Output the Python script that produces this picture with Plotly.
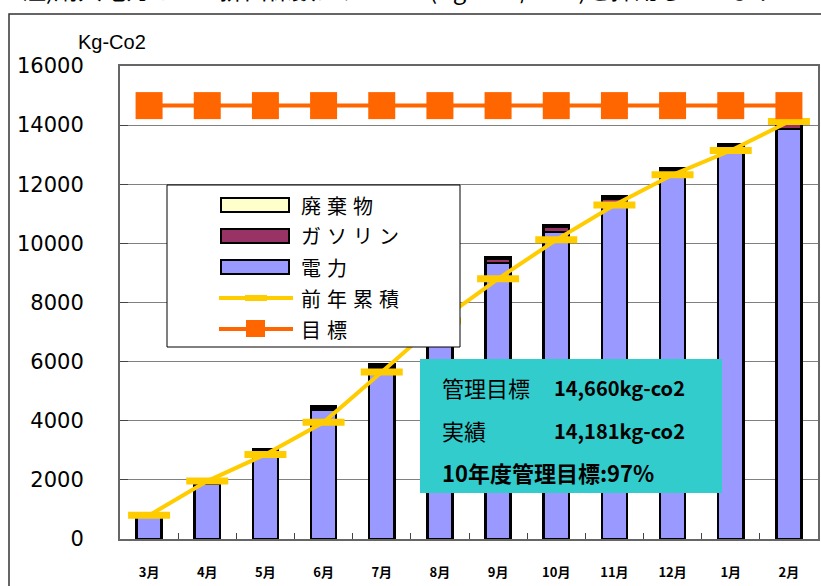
import plotly.graph_objects as go

months = ["3月", "4月", "5月", "6月", "7月", "8月", "9月", "10月", "11月", "12月", "1月", "2月"]
denryoku = [820, 1880, 2950, 4380, 5780, 7450, 9340, 10390, 11330, 12240, 13050, 13870]
gasoline = [40, 50, 60, 70, 80, 100, 140, 160, 180, 220, 220, 240]
haikibutsu = [20, 25, 30, 35, 40, 45, 60, 70, 70, 90, 80, 71]
zennen = [800, 1960, 2860, 3950, 5650, 7380, 8800, 10120, 11300, 12320, 13140, 14120]
mokuhyo = [14660] * 12
yticks = [0, 2000, 4000, 6000, 8000, 10000, 12000, 14000, 16000]
yticklabels = ["0", "2000", "4000", "6000", "8000", "10000", "12000", "14000", "16000"]

W, H = 821, 586
L, R, T, B = 120, 3, 66, 47
PW, PH = W - L - R, H - T - B


def px(x):
    return (x - L) / PW


def py(y):
    return (H - B - y) / PH


BAR_LINE = dict(color="black", width=2.5)
fig = go.Figure()
fig.add_bar(x=months, y=denryoku, name="電力", marker=dict(color="#9999FF", line=BAR_LINE))
fig.add_bar(x=months, y=gasoline, name="ガソリン", marker=dict(color="#993366", line=BAR_LINE))
fig.add_bar(x=months, y=haikibutsu, name="廃棄物", marker=dict(color="#FFFFCC", line=BAR_LINE))
fig.add_scatter(x=months, y=zennen, name="前年累積", mode="lines+markers",
                line=dict(color="#FFCC00", width=4),
                marker=dict(symbol="line-ew", size=30, line=dict(color="#FFCC00", width=7)))
fig.add_scatter(x=months, y=mokuhyo, name="目標", mode="lines+markers",
                line=dict(color="#FF6600", width=4),
                marker=dict(symbol="square", size=27, color="#FF6600"))

shapes = []
annotations = []

# outer frame
shapes.append(dict(type="rect", xref="paper", yref="paper", x0=px(9), x1=px(840), y0=py(14), y1=py(600),
                   line=dict(color="#333333", width=1.5), fillcolor="rgba(0,0,0,0)", layer="below"))

# legend box
shapes.append(dict(type="rect", xref="paper", yref="paper", x0=px(167), x1=px(460), y0=py(185), y1=py(347),
                   line=dict(color="black", width=1), fillcolor="white", layer="above"))
leg_rows = [
    ("廃棄物", 205, "box", "#FFFFCC"),
    ("ガソリン", 236, "box", "#993366"),
    ("電力", 267, "box", "#9999FF"),
    ("前年累積", 298, "yline", "#FFCC00"),
    ("目標", 329, "oline", "#FF6600"),
]
for label, yc, kind, col in leg_rows:
    if kind == "box":
        shapes.append(dict(type="rect", xref="paper", yref="paper", x0=px(221), x1=px(289),
                           y0=py(yc - 7), y1=py(yc + 7), line=dict(color="black", width=2),
                           fillcolor=col, layer="above"))
    elif kind == "yline":
        shapes.append(dict(type="line", xref="paper", yref="paper", x0=px(219), x1=px(293),
                           y0=py(yc), y1=py(yc), line=dict(color=col, width=4), layer="above"))
        shapes.append(dict(type="rect", xref="paper", yref="paper", x0=px(245), x1=px(267),
                           y0=py(yc - 3), y1=py(yc + 3), line=dict(width=0), fillcolor=col, layer="above"))
    else:
        shapes.append(dict(type="line", xref="paper", yref="paper", x0=px(219), x1=px(293),
                           y0=py(yc), y1=py(yc), line=dict(color=col, width=4), layer="above"))
        shapes.append(dict(type="rect", xref="paper", yref="paper", x0=px(246), x1=px(265),
                           y0=py(yc - 9), y1=py(yc + 8), line=dict(width=0), fillcolor=col, layer="above"))
    annotations.append(dict(xref="paper", yref="paper", x=px(299), y=py(yc), xanchor="left", yanchor="middle",
                            text='<span style="letter-spacing:6px">%s</span>' % label, showarrow=False,
                            font=dict(family="Noto Sans CJK JP", size=20, color="black")))

# info box
shapes.append(dict(type="rect", xref="paper", yref="paper", x0=px(420), x1=px(722), y0=py(359), y1=py(493),
                   line=dict(width=0), fillcolor="#33CCCC", layer="above"))
info = [
    ("管理目標", 387, False, 440, 22),
    ("14,660kg-co2", 387, True, 552, 20),
    ("実績", 430, False, 440, 22),
    ("14,181kg-co2", 430, True, 552, 20),
    ("10年度管理目標:97%", 472, True, 440, 22),
]
for txt, yc, bold, x0, fs in info:
    annotations.append(dict(xref="paper", yref="paper", x=px(x0), y=py(yc), xanchor="left", yanchor="middle",
                            text=("<b>%s</b>" % txt) if bold else txt, showarrow=False,
                            font=dict(family="Noto Sans CJK JP", size=fs, color="black")))

# unit label
annotations.append(dict(xref="paper", yref="paper", x=px(76), y=py(42), xanchor="left", yanchor="middle",
                        text="Kg-Co2", showarrow=False,
                        font=dict(family="Liberation Sans", size=20, color="black")))
# clipped top note
annotations.append(dict(xref="paper", yref="paper", x=px(20), y=py(8), xanchor="left", yanchor="bottom",
                        text="注)購入電力のCO2排出係数は、0.378 (Kg-CO2/kWh)を採用しています", showarrow=False,
                        font=dict(family="Noto Sans CJK JP", size=24, color="black")))

fig.update_layout(
    width=W, height=H, margin=dict(l=L, r=R, t=T, b=B, pad=0, autoexpand=False),
    barmode="stack", bargap=0.57, showlegend=False,
    plot_bgcolor="white", paper_bgcolor="white",
    shapes=shapes, annotations=annotations,
    xaxis=dict(range=[-0.5, 11.5], showgrid=False, ticks="inside", tickson="boundaries", ticklen=6,
               tickcolor="#444", showline=True, linecolor="#666666", linewidth=2, mirror=True,
               automargin=False,
               tickfont=dict(family="Noto Sans CJK JP", size=13, color="black", weight="bold"),
               ticklabelstandoff=20),
    yaxis=dict(range=[0, 16000], tickvals=yticks, ticktext=yticklabels, showgrid=True,
               gridcolor="#808080", gridwidth=1, automargin=False,
               ticks="inside", ticklen=8, tickcolor="#444", showline=True, linecolor="#666666", linewidth=2,
               mirror=True, zeroline=False,
               tickfont=dict(family="DejaVu Sans", size=21, color="black"), ticklabelstandoff=30),
)

fig.write_html("out.html", config={"displayModeBar": False},
               post_script="document.body.style.margin='0px';document.body.style.overflow='hidden';")
